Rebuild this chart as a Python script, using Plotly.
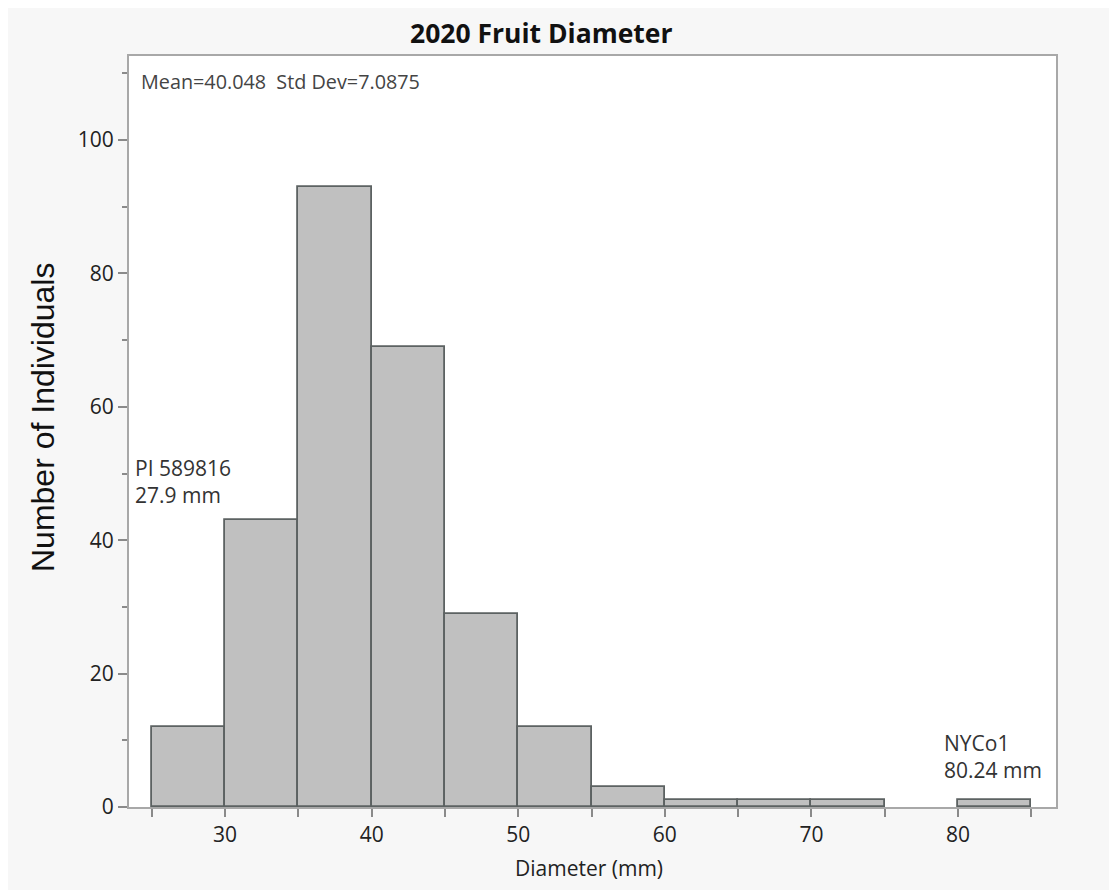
import plotly.graph_objects as go

# Data
bin_starts = [25, 30, 35, 40, 45, 50, 55, 60, 65, 70, 75, 80]
counts = [12, 43, 93, 69, 29, 12, 3, 1, 1, 1, 0, 1]
bin_width = 5
x_tickvals = [30, 40, 50, 60, 70, 80]
y_tickvals = [0, 20, 40, 60, 80, 100]

OFF = 8  # page body margin
W, H = 1117 - OFF, 890 - OFF
L, R, T, B = 129 - OFF, 61, 56 - OFF, 83
PW, PH = W - L - R, H - T - B


def px(x):
    return (x - OFF - L) / PW


def py(y):
    return (H - B - (y - OFF)) / PH


centers = [s + bin_width / 2 for s in bin_starts]
line_widths = [1.8 if c > 0 else 0 for c in counts]

fig = go.Figure()
fig.add_trace(go.Bar(
    x=centers, y=counts, width=[bin_width] * len(counts),
    marker=dict(color="#c0c0c0", line=dict(color="#5c6262", width=line_widths)),
    hoverinfo="x+y", showlegend=False,
))

font_main = "Open Sans, Noto Sans, sans-serif"

fig.update_layout(
    width=W, height=H,
    margin=dict(l=L, r=R, t=T, b=B, pad=0),
    paper_bgcolor="#f7f7f7",
    plot_bgcolor="#ffffff",
    bargap=0,
    font=dict(family=font_main, size=15, color="#222222"),
    xaxis=dict(
        range=[23.45, 86.68], tickvals=x_tickvals, ticks="outside", ticklen=8,
        tickcolor="#8a8a8a", tickwidth=1.5,
        showline=True, linecolor="#a8a8a8", linewidth=2, mirror=True,
        showgrid=False, zeroline=False,
        tickfont=dict(size=21, color="#222222", family=font_main),
        minor=dict(tickvals=[25, 35, 45, 55, 65, 75, 85], ticks="outside", ticklen=8,
                   tickcolor="#8a8a8a", tickwidth=1.5),
    ),
    yaxis=dict(
        range=[0, 112.6], tickvals=y_tickvals, ticks="outside", ticklen=9,
        tickcolor="#8a8a8a", tickwidth=1.5,
        showline=True, linecolor="#a8a8a8", linewidth=2, mirror=True,
        showgrid=False, zeroline=False,
        tickfont=dict(size=21, color="#222222", family=font_main),
        minor=dict(tickvals=[10, 30, 50, 70, 90, 110], ticks="outside", ticklen=5,
                   tickcolor="#8a8a8a", tickwidth=1.5),
    ),
)

annots = [
    dict(text="<b>2020 Fruit Diameter</b>", x=px(541), y=py(33), xanchor="center", yanchor="middle",
         font=dict(size=26.5, color="#111111", family=font_main)),
    dict(text="Number of Individuals", x=px(43), y=py(418), xanchor="center", yanchor="middle",
         textangle=-90, font=dict(size=32, color="#111111", family="Liberation Sans, Arial, sans-serif")),
    dict(text="Diameter (mm)", x=px(589), y=py(868), xanchor="center", yanchor="middle",
         font=dict(size=21, color="#222222", family=font_main)),
    dict(text="Mean=40.048  Std Dev=7.0875", x=px(139), y=py(82), xanchor="left", yanchor="middle",
         font=dict(size=19.8, color="#444444", family=font_main)),
    dict(text="PI 589816<br>27.9 mm", x=px(133), y=py(481), xanchor="left", yanchor="middle",
         align="left", font=dict(size=21, color="#333333", family=font_main)),
    dict(text="NYCo1<br>80.24 mm", x=px(942), y=py(756), xanchor="left", yanchor="middle",
         align="left", font=dict(size=21, color="#333333", family=font_main)),
]
for a in annots:
    fig.add_annotation(xref="paper", yref="paper", showarrow=False, **a)

fig.write_html("out.html")
